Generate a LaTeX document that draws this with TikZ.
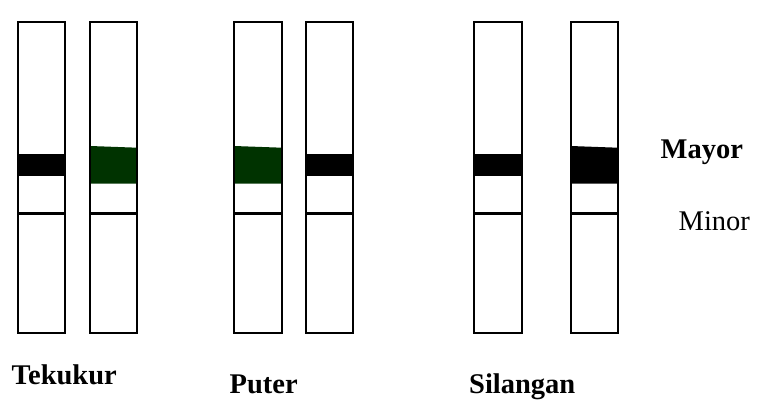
\documentclass[tikz,border=0pt]{standalone}
\usepackage{fontspec}
\setmainfont{Liberation Serif}
\definecolor{bandgreen}{RGB}{0,51,0}
\tikzset{
  stripbox/.style={draw=black, line width=2.3pt, fill=white},
  minorline/.style={line width=3.3pt, black},
  lbl/.style={anchor=base west, inner sep=0pt, font=\fontsize{28.5}{34}\selectfont},
}
\begin{document}
\begin{tikzpicture}[x=1pt,y=-1pt]
\useasboundingbox[fill=white] (0,0) rectangle (760,402);
% strips: left x of centre line
\foreach \n/\xl/\xr in {s1/18.3/65, s2/90.3/137.3, s3/234.3/281.7, s4/306.3/353.3, s5/474.3/521.7, s6/570.7/617.7}{
  \fill[white] (\xl,22.3) rectangle (\xr,333.3);
  \coordinate (\n-tl) at (\xl,22.3);
  \coordinate (\n-br) at (\xr,333.3);
}
% thin major bands (black)
\foreach \xl/\xr in {18.3/65, 306.3/353.3, 474.3/521.7}{
  \fill[black] (\xl,154) rectangle (\xr,175.7);
}
% thick major bands
\fill[bandgreen] (90.3,146) -- (137.3,147.7) -- (137.3,183.7) -- (90.3,183.7) -- cycle;
\fill[bandgreen] (234.3,146) -- (281.7,147.7) -- (281.7,183.7) -- (234.3,183.7) -- cycle;
\fill[black] (570.7,146) -- (617.7,147.7) -- (617.7,183.7) -- (570.7,183.7) -- cycle;
% minor bands
\foreach \xl/\xr in {18.3/65, 90.3/137.3, 234.3/281.7, 306.3/353.3, 474.3/521.7, 570.7/617.7}{
  \draw[minorline] (\xl,213.6) -- (\xr,213.6);
}
% outlines
\foreach \n in {s1,s2,s3,s4,s5,s6}{
  \draw[draw=black, line width=2.3pt] (\n-tl) rectangle (\n-br);
}
% labels
\node[lbl, font=\fontsize{28.5}{34}\selectfont\bfseries] (tek) at (11.5,384) {Tekukur};
\node[lbl, font=\fontsize{28.5}{34}\selectfont\bfseries] (put) at (229.5,393) {Puter};
\node[lbl, font=\fontsize{28.5}{34}\selectfont\bfseries] (sil) at (469,393) {Silangan};
\node[lbl, font=\fontsize{28.5}{34}\selectfont\bfseries] (may) at (660.5,158) {Mayor};
\node[lbl] (min) at (678.5,230) {Minor};
\end{tikzpicture}
\end{document}
